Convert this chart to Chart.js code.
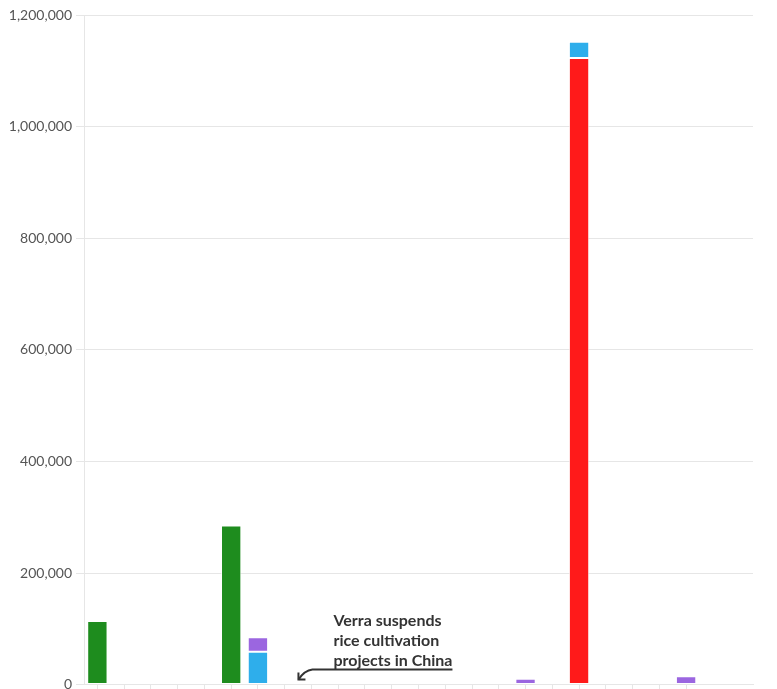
<!DOCTYPE html>
<html>
<head>
<meta charset="utf-8">
<script src="https://cdn.jsdelivr.net/npm/chart.js@4"></script>
<style>
  html, body { margin: 0; padding: 0; background: #fff; overflow: hidden; }
  #wrap { width: 777px; height: 697px; }
</style>
</head>
<body>
<div id="wrap"><canvas id="creditsChart"></canvas></div>
<script>
// categories (unlabelled on the original chart)
var categories = ["1", "2", "3", "4", "5", "6", "7", "8", "9", "10", "11", "12", "13",
  "14", "15", "16", "17", "18", "19", "20", "21", "22", "23", "24", "25"];

// series values
var greenValues  = [114000, 0, 0, 0, 0, 285000, 0, 0, 0, 0, 0, 0, 0, 0, 0, 0, 0, 0, 0, 0, 0, 0, 0, 0, 0];
var redValues    = [0, 0, 0, 0, 0, 0, 0, 0, 0, 0, 0, 0, 0, 0, 0, 0, 0, 0, 1123000, 0, 0, 0, 0, 0, 0];
var blueValues   = [0, 1500, 0, 0, 0, 0, 59000, 0, 1500, 0, 1500, 0, 0, 1500, 0, 0, 0, 0, 29000, 0, 0, 0, 0, 0, 0];
var purpleValues = [0, 0, 0, 0, 0, 0, 26000, 1500, 0, 0, 0, 0, 0, 0, 0, 0, 10500, 0, 0, 0, 0, 0, 15000, 0, 0];

var yTicks = [0, 200000, 400000, 600000, 800000, 1000000, 1200000];

var annotationLines = ["Verra suspends", "rice cultivation", "projects in China"];
var annotationIndex = 8;

var fontFamily = "Lato, 'Open Sans', sans-serif";

// annotation with arrow
var annotationPlugin = {
  id: "annotation",
  afterDraw: function (chart) {
    var ctx = chart.ctx;
    var x = chart.scales.x;
    var y = chart.scales.y;
    var tipX = x.getPixelForValue(annotationIndex) - 13;
    var tipY = y.getPixelForValue(0) - 5;
    var textX = tipX + 35;
    ctx.save();
    ctx.font = "bold 16px " + fontFamily;
    ctx.fillStyle = "#333";
    ctx.textBaseline = "alphabetic";
    for (var i = 0; i < annotationLines.length; i++) {
      ctx.fillText(annotationLines[i], textX, tipY - 54 + i * 20);
    }
    var lastW = ctx.measureText(annotationLines[annotationLines.length - 1]).width;
    var lineY = tipY - 10;
    ctx.strokeStyle = "#333";
    ctx.lineWidth = 2;
    ctx.beginPath();
    ctx.moveTo(textX + lastW, lineY);
    ctx.lineTo(tipX + 14, lineY);
    ctx.quadraticCurveTo(tipX + 6, lineY + 1, tipX, tipY);
    ctx.stroke();
    ctx.beginPath();
    ctx.moveTo(tipX, tipY - 7);
    ctx.lineTo(tipX, tipY);
    ctx.lineTo(tipX + 7, tipY);
    ctx.stroke();
    ctx.restore();
  }
};

var barStyle = {
  borderColor: "rgba(255, 255, 255, 0.7)",
  borderWidth: 1,
  borderSkipped: false,
  barPercentage: 0.76,
  categoryPercentage: 1.0
};

var ctxCredits = document.getElementById("creditsChart").getContext("2d");
new Chart(ctxCredits, {
  type: "bar",
  data: {
    labels: categories,
    datasets: [
      Object.assign({ label: "Green", data: greenValues, backgroundColor: "#1e8c1e" }, barStyle),
      Object.assign({ label: "Red", data: redValues, backgroundColor: "#ff1a1a" }, barStyle),
      Object.assign({ label: "Blue", data: blueValues, backgroundColor: "#2eaeeb" }, barStyle),
      Object.assign({ label: "Purple", data: purpleValues, backgroundColor: "#9b66e0" }, barStyle)
    ]
  },
  options: {
    responsive: true,
    maintainAspectRatio: false,
    animation: false,
    layout: { padding: { top: 15, right: 24, left: 0, bottom: 0 } },
    plugins: {
      legend: { display: false },
      tooltip: { enabled: false }
    },
    scales: {
      x: {
        stacked: true,
        border: { color: "#e6e6e6", width: 1 },
        grid: {
          offset: false,
          drawOnChartArea: false,
          tickLength: 8,
          tickColor: function (c) { return c.index > 22 ? "rgba(0,0,0,0)" : "#e6e6e6"; }
        },
        ticks: { display: false },
        afterFit: function (scale) { scale.height = 5; }
      },
      y: {
        stacked: true,
        min: 0,
        max: 1200000,
        border: { color: "#e6e6e6", width: 1 },
        grid: { color: "#e6e6e6", tickLength: 8 },
        afterBuildTicks: function (scale) {
          scale.ticks = yTicks.map(function (v) { return { value: v }; });
        },
        ticks: {
          color: "#555",
          padding: 4,
          font: { family: fontFamily, size: 14 },
          callback: function (value) { return value.toLocaleString("en-US"); }
        },
        afterFit: function (scale) { scale.width = 84; }
      }
    }
  },
  plugins: [annotationPlugin]
});
</script>
</body>
</html>
